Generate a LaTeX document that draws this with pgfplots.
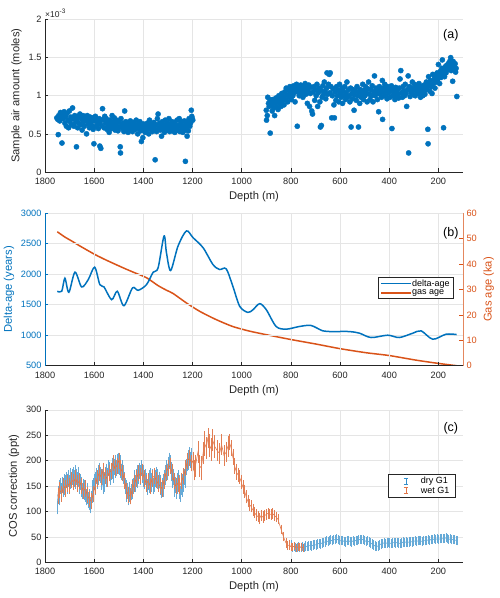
\documentclass[border=0pt]{standalone}
\usepackage{pgfplots}
\pgfplotsset{compat=1.18}
\usepackage{fontspec}
\setmainfont{Liberation Sans}
\definecolor{mblue}{HTML}{0072BD}
\definecolor{morange}{HTML}{D95319}
\definecolor{axgray}{HTML}{262626}
\tikzset{panellab/.style={font=\fontsize{12.5}{14}\selectfont, text=black}}
\pgfplotsset{
  mystyle/.style={
    scale only axis, width=418pt, height=152.5pt,
    x dir=reverse, xmin=100, xmax=1800, xtick={200,400,...,1800},
    axis x line*=bottom, axis y line*=left,
    grid=major, major grid style={black!10, line width=0.5pt},
    tick align=inside, major tick length=3.5pt,
    tick style={axgray, line width=0.5pt},
    axis line style={axgray, line width=0.5pt, -},
    ticklabel style={font=\fontsize{9.2}{11}\selectfont, text=axgray},
    xticklabel style={yshift=-2.5pt},
    label style={font=\fontsize{11.2}{13}\selectfont, text=axgray},
    /pgf/number format/1000 sep={},
    /pgf/number format/assume math mode=true,
    xlabel={Depth (m)},
    clip mode=individual,
  },
}
\begin{document}
\begin{tikzpicture}[x=1pt,y=1pt]
\useasboundingbox (0,0) rectangle (500,598);
% ---------------- (a)
\begin{axis}[mystyle, at={(45pt,426pt)}, anchor=south west,
  ymin=0, ymax=2, ytick={0,0.5,1,1.5,2},
  ylabel={Sample air amount (moles)}]
\addplot[only marks, mark=*, mark size=2.6pt, color=mblue, mark options={fill=mblue, draw=mblue}] coordinates {
(1752,0.71)(1748,0.69)(1746,0.49)(1744,0.74)(1740,0.67)(1737,0.78)(1734,0.72)(1731,0.38)(1729,0.76)(1726,0.70)
(1722,0.79)(1719,0.64)(1716,0.73)(1713,0.60)(1710,0.77)(1707,0.68)(1704,0.58)(1701,0.80)(1698,0.66)(1695,0.72)
(1692,0.62)(1688,0.84)(1685,0.70)(1682,0.60)(1679,0.74)(1676,0.65)(1672,0.33)(1670,0.69)(1667,0.58)(1664,0.73)
(1661,0.64)(1658,0.76)(1655,0.62)(1652,0.70)(1649,0.55)(1646,0.74)(1643,0.66)(1640,0.60)(1637,0.72)(1634,0.68)
(1631,0.50)(1628,0.74)(1625,0.63)(1622,0.69)(1619,0.58)(1616,0.72)(1613,0.65)(1610,0.61)(1607,0.71)(1604,0.56)
(1601,0.37)(1598,0.67)(1595,0.73)(1592,0.60)(1589,0.68)(1586,0.63)(1583,0.57)(1580,0.70)(1577,0.34)(1575,0.66)
(1573,0.31)(1570,0.61)(1566,0.83)(1563,0.69)(1560,0.58)(1557,0.73)(1554,0.64)(1551,0.70)(1548,0.56)(1545,0.66)
(1542,0.60)(1539,0.52)(1536,0.68)(1533,0.62)(1530,0.57)(1527,0.74)(1524,0.65)(1521,0.59)(1518,0.71)(1515,0.55)
(1512,0.63)(1509,0.68)(1506,0.60)(1503,0.54)(1500,0.66)(1497,0.59)(1494,0.33)(1493,0.25)(1491,0.70)(1488,0.62)
(1485,0.57)(1482,0.64)(1479,0.53)(1476,0.80)(1474,0.60)(1471,0.66)(1468,0.56)(1465,0.62)(1462,0.52)(1459,0.64)
(1456,0.58)(1453,0.67)(1450,0.55)(1447,0.61)(1444,0.53)(1441,0.65)(1438,0.58)(1435,0.62)(1432,0.56)(1429,0.68)
(1426,0.60)(1423,0.50)(1420,0.63)(1417,0.57)(1414,0.66)(1411,0.54)(1408,0.40)(1405,0.60)(1402,0.45)(1399,0.63)
(1396,0.57)(1393,0.52)(1390,0.61)(1387,0.55)(1384,0.64)(1381,0.58)(1378,0.50)(1375,0.68)(1372,0.60)(1369,0.56)
(1366,0.63)(1363,0.53)(1360,0.59)(1357,0.65)(1354,0.57)(1352,0.16)(1349,0.62)(1346,0.53)(1343,0.70)(1340,0.76)
(1337,0.58)(1334,0.64)(1331,0.55)(1328,0.60)(1326,0.47)(1323,0.66)(1320,0.57)(1317,0.62)(1314,0.52)(1311,0.68)
(1308,0.59)(1305,0.55)(1302,0.64)(1299,0.58)(1296,0.70)(1293,0.53)(1290,0.62)(1287,0.57)(1284,0.66)(1281,0.54)
(1278,0.60)(1275,0.65)(1272,0.52)(1269,0.62)(1266,0.57)(1263,0.68)(1260,0.55)(1257,0.61)(1254,0.70)(1251,0.53)
(1248,0.64)(1245,0.58)(1242,0.66)(1239,0.52)(1236,0.60)(1233,0.67)(1230,0.55)(1229,0.14)(1227,0.62)(1224,0.58)
(1222,0.47)(1220,0.66)(1217,0.54)(1214,0.70)(1211,0.60)(1208,0.64)(1205,0.81)(1203,0.73)(1201,0.70)(1199,0.68)
(900,0.81)(899,0.68)(896,0.74)(894,0.98)(891,0.90)(888,0.86)(886,0.95)(884,0.51)(882,0.92)(879,0.88)
(876,0.80)(873,0.95)(870,0.84)(866,0.74)(864,0.90)(861,0.97)(858,0.86)(855,0.93)(852,0.82)(849,1.00)
(846,0.90)(843,0.96)(840,0.86)(837,1.03)(834,0.93)(831,0.99)(828,0.88)(825,1.05)(822,0.95)(819,1.10)
(816,1.01)(813,0.92)(810,1.07)(807,0.98)(804,1.12)(801,1.03)(798,0.95)(795,1.08)(792,1.00)(789,1.13)
(786,1.04)(783,0.92)(780,1.09)(777,1.15)(774,0.60)(772,1.05)(769,1.12)(766,1.00)(763,1.08)(760,1.14)
(757,1.03)(754,1.10)(751,0.98)(748,1.12)(745,1.06)(742,1.16)(739,1.02)(736,1.10)(733,0.90)(730,1.07)
(727,1.14)(724,0.86)(721,1.03)(718,1.11)(715,0.80)(712,0.76)(709,1.05)(706,1.12)(703,0.94)(700,1.08)
(697,1.00)(694,1.15)(691,0.86)(688,1.04)(685,1.10)(682,0.92)(680,0.59)(678,1.07)(676,0.61)(673,0.98)
(670,1.13)(667,1.02)(664,1.18)(661,1.06)(658,0.96)(655,1.10)(653,1.30)(650,1.02)(647,1.15)(644,1.28)
(641,1.04)(640,1.30)(637,1.12)(634,0.71)(631,1.00)(628,1.09)(625,0.88)(623,0.71)(620,1.05)(617,0.94)
(614,1.12)(611,1.00)(608,1.07)(605,0.92)(602,1.15)(599,1.03)(596,0.98)(593,1.10)(590,0.90)(587,1.06)
(584,1.00)(581,1.12)(578,0.95)(575,1.04)(572,1.18)(569,0.98)(566,1.08)(563,1.00)(560,0.92)(557,1.10)
(555,0.59)(552,1.03)(549,0.96)(546,1.08)(543,0.81)(540,1.01)(537,1.06)(534,0.94)(531,1.12)(528,1.00)
(525,0.59)(523,1.05)(520,0.90)(517,1.08)(514,0.98)(511,1.03)(508,1.15)(505,0.95)(502,1.07)(499,1.00)
(496,1.12)(493,1.04)(490,0.92)(487,1.09)(484,1.18)(481,1.02)(478,0.95)(475,1.08)(472,1.00)(469,1.13)
(466,0.92)(463,1.05)(460,1.26)(457,1.00)(454,1.10)(451,1.04)(448,0.95)(445,1.08)(443,0.79)(440,1.12)
(437,1.02)(434,1.06)(431,0.98)(428,1.20)(427,0.69)(424,1.10)(421,1.04)(418,1.15)(415,1.00)(412,1.08)
(409,0.96)(406,1.12)(403,1.04)(400,1.10)(397,0.98)(394,1.06)(391,1.13)(389,0.57)(386,1.00)(383,1.08)
(380,1.04)(377,0.95)(374,1.11)(371,1.00)(368,1.07)(365,1.02)(362,0.97)(359,1.10)(356,1.22)(353,1.33)
(350,1.04)(347,0.98)(344,1.12)(341,1.06)(338,1.00)(335,1.15)(332,1.03)(329,0.86)(326,1.08)(323,1.26)
(321,0.25)(318,1.12)(315,0.99)(312,1.05)(309,1.10)(306,1.18)(303,1.02)(300,1.08)(297,1.15)(294,1.00)
(291,1.12)(288,1.06)(285,1.10)(282,1.03)(279,1.16)(276,1.08)(273,0.98)(270,1.12)(267,1.05)(264,1.00)
(261,1.10)(258,1.14)(255,1.02)(252,1.08)(249,1.18)(246,1.11)(243,0.56)(242,0.37)(240,1.25)(238,1.15)
(235,1.06)(232,1.20)(229,1.12)(226,1.03)(223,1.28)(220,1.16)(217,1.22)(214,1.10)(211,1.26)(208,1.18)
(205,1.30)(202,1.22)(200,1.41)(198,1.27)(195,1.16)(192,1.32)(189,1.24)(186,1.36)(184,1.47)(182,1.28)
(179,0.58)(178,1.33)(175,1.25)(172,1.38)(169,1.30)(166,1.40)(163,1.34)(160,1.42)(157,1.36)(154,1.45)
(151,1.38)(150,1.50)(148,1.33)(146,1.43)(143,1.37)(142,1.19)(140,1.45)(137,1.40)(135,1.34)(132,1.42)
(130,1.31)(128,1.36)(125,0.99)
};
\node[panellab] at (rel axis cs:0.971,0.895) {(a)};
\node[anchor=south west, inner sep=0pt, font=\fontsize{8.5}{9}\selectfont, text=axgray] at (rel axis cs:0,1) [yshift=2pt] {\texttimes10\raisebox{0.45em}{\fontsize{6.5}{7}\selectfont -3}};
\end{axis}
% ---------------- (b) right (gas age, drawn first)
\begin{axis}[scale only axis, width=418pt, height=152.5pt, at={(45pt,232.3pt)}, anchor=south west,
  x dir=reverse, xmin=100, xmax=1800, axis x line=none, axis y line*=right,
  ymin=0, ymax=60, ytick={0,10,...,60},
  tick align=inside, major tick length=3.5pt, clip mode=individual,
  y axis line style={morange!70, line width=0.5pt, -}, ytick style={morange, line width=0.5pt},
  yticklabel style={font=\fontsize{9.2}{11}\selectfont, text=morange},
  /pgf/number format/assume math mode=true,
  ylabel={Gas age (ka)}, ylabel style={font=\fontsize{11.2}{13}\selectfont, text=morange}]
\addplot[color=morange, line width=1.5pt, smooth, tension=0.4] coordinates {
(1750,52.7)(1719,50.6)(1692,49.1)(1658,47.1)(1598,43.8)(1550,41.5)(1482,38.5)(1441,36.8)(1387,34.6)(1340,31.5)
(1306,29.7)(1279,28.4)(1225,24.7)(1171,21.4)(1103,18.1)(1036,15.4)(968,13.6)(900,12.2)(800,10.3)(697,8.5)
(600,6.7)(494,5.1)(400,4.0)(292,2.2)(200,0.9)(126,0)
};
\end{axis}
% ---------------- (b) left (delta-age) with legend
\begin{axis}[mystyle, at={(45pt,232.3pt)}, anchor=south west,
  ymin=500, ymax=3000, ytick={500,1000,...,3000},
  y axis line style={mblue}, ytick style={mblue},
  yticklabel style={text=mblue},
  ylabel={Delta-age (years)}, ylabel style={text=mblue},
  legend style={at={(0.978,0.582)}, anchor=north east, draw=axgray, fill=white,
    font=\fontsize{9}{10}\selectfont, inner xsep=2.5pt, inner ysep=1pt, row sep=-1pt,
    nodes={inner sep=1.5pt}},
  legend cell align=left]
\addlegendimage{legend image code/.code={
  \path[draw=none] (0pt,-3pt) rectangle (30pt,3pt);
  \fill[fill=mblue, draw=none] (0pt,-0.8pt) rectangle (30pt,0.8pt);}}
\addlegendentry{delta-age}
\addlegendimage{legend image code/.code={
  \path[draw=none] (0pt,-3pt) rectangle (30pt,3pt);
  \fill[fill=morange, draw=none] (0pt,-0.8pt) rectangle (30pt,0.8pt);}}
\addlegendentry{gas age}
\addplot[forget plot, color=mblue, line width=1.5pt, smooth, tension=0.5] coordinates {
(1750,1720)(1732,1720)(1719,1934)(1703,1703)(1678,2033)(1651,1791)(1624,1912)(1598,2115)(1577,1830)(1560,1791)
(1529,1582)(1506,1720)(1479,1483)(1444,1775)(1421,1736)(1387,1830)(1360,2033)(1340,2104)(1316,2626)(1306,2352)
(1289,2060)(1259,2461)(1225,2709)(1198,2599)(1157,2434)(1117,2159)(1090,2077)(1063,2088)(1036,1802)(1008,1473)
(975,1374)(954,1418)(927,1517)(900,1418)(860,1143)(819,1099)(765,1143)(718,1159)(670,1071)(630,1060)
(562,1060)(521,1033)(474,962)(406,1000)(359,962)(304,1033)(270,1071)(223,934)(169,1016)(126,1011)
};
\node[panellab] at (rel axis cs:0.971,0.868) {(b)};
\end{axis}
% ---------------- (c)
\begin{axis}[mystyle, at={(45pt,35.7pt)}, anchor=south west,
  ymin=0, ymax=300, ytick={0,50,...,300},
  ylabel={COS correction (ppt)}, unbounded coords=jump,
  legend style={at={(0.981,0.578)}, anchor=north east, draw=axgray, fill=white,
    font=\fontsize{9}{10}\selectfont, inner xsep=4pt, inner ysep=1pt, row sep=-1pt,
    nodes={inner sep=1.5pt}},
  legend cell align=left]
\addlegendimage{legend image code/.code={
  \path[draw=none] (0pt,0pt)--(27pt,0pt);
  \draw[draw=mblue!80, line width=0.6pt] (13.5pt,-3pt)--(13.5pt,3pt);
  \draw[draw=mblue!80, line width=0.6pt] (11.5pt,-3pt)--(15.5pt,-3pt);
  \draw[draw=mblue!80, line width=0.6pt] (11.5pt,3pt)--(15.5pt,3pt);}}
\addlegendentry{dry G1}
\addlegendimage{legend image code/.code={
  \path[draw=none] (0pt,0pt)--(27pt,0pt);
  \draw[draw=morange!80, line width=0.6pt] (13.5pt,-3pt)--(13.5pt,3pt);
  \draw[draw=morange!80, line width=0.6pt] (11.5pt,-3pt)--(15.5pt,-3pt);
  \draw[draw=morange!80, line width=0.6pt] (11.5pt,3pt)--(15.5pt,3pt);}}
\addlegendentry{wet G1}
\addplot[forget plot, color=mblue!75, line width=0.5pt, mark=none,
  error bars/.cd, y dir=both, y explicit,
  error bar style={mblue!60, line width=0.5pt},
  error mark options={mblue!60, mark size=2pt, line width=0.5pt}]
  table[x=d, y=v, y error=e] {
d v e
1750 107 9
1747 135 12
1744 145 12
1741 128 12
1738 150 12
1735 140 12
1732 138 12
1729 152 12
1726 145 12
1723 158 12
1720 148 12
1717 155 12
1714 162 12
1711 150 12
1708 158 12
1705 165 12
1702 155 12
1699 160 12
1696 170 12
1693 162 12
1690 168 12
1687 158 12
1684 172 12
1681 165 12
1678 160 12
1675 175 12
1672 168 12
1669 162 12
1666 172 12
1663 165 12
1660 150 12
1657 158 12
1654 145 12
1651 152 12
1648 140 12
1645 148 12
1642 138 12
1639 145 12
1636 135 12
1633 128 12
1630 140 12
1627 130 12
1624 122 12
1621 118 12
1618 128 12
1615 112 12
1612 125 12
1609 133 12
1606 145 12
1603 150 12
1600 158 12
1597 148 12
1594 162 12
1591 170 12
1588 160 12
1585 175 12
1582 168 12
1579 180 12
1576 172 12
1573 165 12
1570 158 12
1567 168 12
1564 150 12
1561 162 12
1558 155 12
1555 172 12
1552 165 12
1549 178 12
1546 170 12
1543 185 12
1540 175 12
1537 182 12
1534 168 12
1531 178 12
1528 190 12
1525 180 12
1522 172 12
1519 188 12
1516 182 12
1513 195 12
1510 185 12
1507 198 12
1504 190 12
1501 200 12
1498 188 12
1495 182 12
1492 195 12
1489 178 12
1486 185 12
1483 170 12
1480 175 12
1477 162 12
1474 150 12
1471 145 12
1468 135 12
1465 140 12
1462 128 12
1459 135 12
1456 142 12
1453 130 12
1450 138 12
1447 148 12
1444 140 12
1441 150 12
1438 158 12
1435 165 12
1432 155 12
1429 168 12
1426 175 12
1423 162 12
1420 170 12
1417 180 12
1414 168 12
1411 175 12
1408 185 12
1405 172 12
1402 165 12
1399 175 12
1396 160 12
1393 168 12
1390 155 12
1387 160 12
1384 148 12
1381 158 12
1378 165 12
1375 152 12
1372 170 12
1369 160 12
1366 155 12
1363 168 12
1360 150 12
1357 162 12
1354 155 12
1351 165 12
1348 172 12
1345 160 12
1342 168 12
1339 155 12
1336 162 12
1333 148 12
1330 155 12
1327 142 12
1324 150 12
1321 145 12
1318 158 12
1315 165 12
1312 175 12
1309 168 12
1306 185 12
1303 178 12
1300 192 12
1297 185 12
1294 200 12
1291 195 12
1288 182 12
1285 175 12
1282 162 12
1279 168 12
1276 155 12
1273 145 12
1270 152 12
1267 140 12
1264 160 12
1261 150 12
1258 165 12
1255 155 12
1252 140 12
1249 135 12
1246 148 12
1243 158 12
1240 145 12
1237 155 12
1234 168 12
1231 162 12
1228 175 12
1225 188 12
1222 195 12
1219 205 12
1216 198 12
1213 210 12
1210 202 12
1207 195 12
1204 208 12
1000 nan 0
800 34 6
794 30 5
788 31 5
782 29 5
776 30 5
770 31 5
764 29 5
758 30 5
752 31 5
746 30 5
740 32 5
734 31 5
728 32 5
722 33 5
716 32 5
710 34 5
704 35 5
698 34 5
692 36 5
686 37 5
680 36 5
674 38 5
668 39 5
662 40 5
656 42 5
650 41 5
644 43 5
638 44 5
632 42 5
626 45 5
620 44 5
614 46 5
608 44 5
602 43 5
596 42 5
590 43 5
584 41 5
578 40 5
572 42 5
566 43 5
560 41 5
554 40 5
548 42 5
542 41 5
536 43 5
530 42 5
524 44 5
518 45 5
512 44 5
506 45 5
500 43 5
494 41 5
488 42 5
482 40 5
476 38 5
470 36 5
464 34 5
458 32 5
452 31 5
446 32 5
440 34 5
434 36 5
428 37 5
422 38 5
416 37 5
410 38 5
404 39 5
398 38 5
392 37 5
386 38 5
380 39 5
374 38 5
368 39 5
362 38 5
356 37 5
350 38 5
344 40 5
338 39 5
332 40 5
326 39 5
320 40 5
314 41 5
308 40 5
302 41 5
296 42 5
290 41 5
284 42 5
278 43 5
272 42 5
266 41 5
260 43 5
254 42 5
248 43 5
242 44 5
236 43 5
230 45 5
224 44 5
218 46 5
212 45 5
206 46 5
200 45 5
194 46 5
188 47 5
182 46 5
176 47 5
170 48 5
164 46 5
158 45 5
152 46 5
146 44 5
140 45 5
134 44 5
128 43 5
125 42 5
};
\addplot[forget plot, color=morange!85, line width=0.5pt, mark=none,
  error bars/.cd, y dir=both, y explicit,
  error bar style={morange!75, line width=0.5pt},
  error mark options={morange!75, mark size=2pt, line width=0.5pt}]
  table[x=d, y=v, y error=e] {
d v e
1748 130 12
1740 142 12
1732 135 12
1724 150 12
1716 145 12
1708 155 12
1700 150 12
1692 162 12
1684 158 12
1676 165 12
1668 155 12
1660 160 12
1652 150 12
1644 140 12
1636 145 12
1628 132 12
1620 125 12
1612 120 12
1604 135 12
1596 150 12
1588 165 12
1580 175 12
1572 168 12
1564 180 12
1556 170 12
1548 165 12
1540 175 12
1532 180 12
1524 195 12
1516 185 12
1508 190 12
1500 200 12
1492 185 12
1484 175 12
1476 160 12
1468 140 12
1460 132 12
1452 130 12
1444 145 12
1436 155 12
1428 165 12
1420 175 12
1412 170 12
1404 178 12
1396 165 12
1388 155 12
1380 160 12
1372 150 12
1364 165 12
1356 170 12
1348 162 12
1340 155 12
1332 150 12
1324 145 12
1316 160 12
1308 175 12
1300 185 12
1292 190 12
1284 178 12
1276 160 12
1268 150 12
1260 155 12
1252 150 12
1244 160 12
1236 170 12
1228 185 12
1220 200 12
1212 205 12
1204 195 12
1198 200 14
1195 181 16
1188 190 18
1178 217 18
1171 190 18
1164 185 20
1157 215 18
1151 234 20
1144 225 18
1138 244 16
1130 230 18
1124 222 18
1118 240 18
1110 228 18
1100 220 16
1090 214 16
1082 232 16
1072 210 16
1063 217 16
1056 228 16
1050 236 12
1043 225 12
1036 207 12
1029 190 12
1022 178 12
1015 172 10
1009 168 10
1002 158 10
995 148 9
988 140 9
982 129 9
975 120 8
968 113 8
962 110 8
955 103 8
948 98 7
941 93 7
934 90 7
928 86 7
921 92 7
914 89 7
907 92 7
900 94 6
894 96 6
887 95 6
880 94 6
874 96 6
867 92 6
860 89 6
853 85 6
840 65 5
830 50 5
820 38 5
813 33 5
806 34 5
800 31 4
793 30 4
786 32 4
779 29 4
772 30 4
765 31 4
758 30 4
750 29 4
};
\node[panellab] at (rel axis cs:0.971,0.882) {(c)};
\end{axis}
\end{tikzpicture}
\end{document}
